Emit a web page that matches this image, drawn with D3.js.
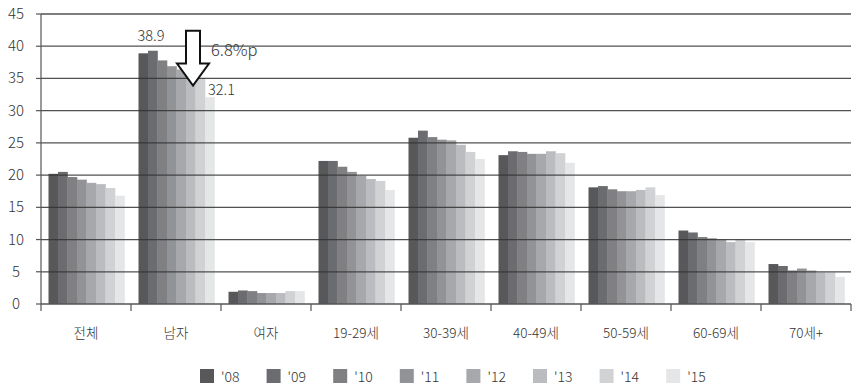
<!DOCTYPE html>
<html><head><meta charset="utf-8">
<script src="https://cdn.jsdelivr.net/npm/d3@7"></script>
<style>body{margin:0;background:#fff}svg{display:block}text{font-family:"Noto Sans CJK KR","Noto Sans",sans-serif;font-weight:300;fill:#333}</style>
</head><body><svg id="c" width="856" height="386"></svg>
<script>
const categories = ['전체','남자','여자','19-29세','30-39세','40-49세','50-59세','60-69세','70세+'];
const years = ["'08","'09","'10","'11","'12","'13","'14","'15"];
const v08 = [20.2, 38.9, 1.9, 22.2, 25.8, 23.1, 18.1, 11.4, 6.2];
const v09 = [20.5, 39.3, 2.1, 22.2, 26.9, 23.7, 18.3, 11.1, 5.9];
const v10 = [19.7, 37.8, 2.0, 21.3, 25.9, 23.6, 17.8, 10.4, 5.2];
const v11 = [19.3, 36.9, 1.7, 20.5, 25.5, 23.3, 17.5, 10.2, 5.5];
const v12 = [18.8, 36.4, 1.7, 19.9, 25.4, 23.3, 17.5, 10.0, 5.2];
const v13 = [18.6, 35.6, 1.7, 19.4, 24.7, 23.7, 17.7, 9.6, 4.9];
const v14 = [18.0, 35.1, 2.0, 19.1, 23.6, 23.4, 18.1, 10.0, 4.9];
const v15 = [16.8, 32.1, 2.0, 17.7, 22.5, 21.9, 16.9, 9.6, 4.2];
const yTicks = [0,5,10,15,20,25,30,35,40,45];
const colors = ['#58585a','#6b6c70','#808083','#929396','#a7a8ab','#bbbcbf','#d1d2d4','#e5e6e7'];
const series = [v08,v09,v10,v11,v12,v13,v14,v15];
const annot = {start:"38.9", end:"32.1", diff:"6.8%p"};

const svg = d3.select('#c');
const L=41, R=851, T=14, B=304;
const x = d3.scaleBand().domain(categories).range([L,R]).padding(0);
const x1 = d3.scaleBand().domain(years).range([7.5, x.bandwidth()-6.5]).padding(0);
const y = d3.scaleLinear().domain([0,45]).range([B,T]);

// bars
const g = svg.append('g');
categories.forEach((c,ci)=>{
  years.forEach((yr,yi)=>{
    const v = series[yi][ci];
    g.append('rect').attr('x', x(c)+x1(yr)).attr('y', y(v))
      .attr('width', x1.bandwidth()+0.3).attr('height', y(0)-y(v)).attr('fill', colors[yi]);
  });
});

// gridlines on top
svg.append('g').selectAll('line').data(yTicks.filter(d=>d>0)).join('line')
  .attr('x1',L).attr('x2',R).attr('y1',d=>y(d)).attr('y2',d=>y(d))
  .attr('stroke','#333').attr('stroke-width',1.3).attr('stroke-opacity',0.85);

// y axis
svg.append('line').attr('x1',L).attr('x2',L).attr('y1',T).attr('y2',B).attr('stroke','#555').attr('stroke-width',1.2);
svg.append('g').selectAll('line').data(yTicks).join('line')
  .attr('x1',L-5).attr('x2',L).attr('y1',d=>y(d)).attr('y2',d=>y(d)).attr('stroke','#555').attr('stroke-width',1.2);
svg.append('g').selectAll('text').data(yTicks).join('text')
  .attr('x',16).attr('y',d=>y(d)+5).attr('text-anchor','middle').attr('font-size',15).text(d=>d);

// x axis
svg.append('line').attr('x1',L).attr('x2',R).attr('y1',B).attr('y2',B).attr('stroke','#555').attr('stroke-width',1.3);
const bounds = categories.map(c=>x(c)).concat([R]);
svg.append('g').selectAll('line').data(bounds).join('line')
  .attr('x1',d=>d).attr('x2',d=>d).attr('y1',B).attr('y2',B+7).attr('stroke','#555').attr('stroke-width',1.2);
svg.append('g').selectAll('text').data(categories).join('text')
  .attr('x',d=>x(d)+x.bandwidth()/2).attr('y',338).attr('text-anchor','middle').attr('font-size',13.5).text(d=>d);

// annotation for 남자
const gx = x('남자');
svg.append('text').attr('x', gx+x1(years[0])-1).attr('y', y(v08[1])-12).attr('font-size',14.5).text(annot.start);
svg.append('text').attr('x', gx+x1(years[7])+3).attr('y', y(v15[1])-2).attr('font-size',14.5).text(annot.end);
svg.append('text').attr('x', gx+80).attr('y', y(38.5)).attr('font-size',16.5).text(annot.diff);
const ax = gx + x1(years[6]) - 2.5; // arrow centre
const path = d3.path();
path.moveTo(ax-7, y(42.4)); path.lineTo(ax+7, y(42.4)); path.lineTo(ax+7, y(37.3));
path.lineTo(ax+16, y(37.3)); path.lineTo(ax, y(33.9)); path.lineTo(ax-16, y(37.3));
path.lineTo(ax-7, y(37.3)); path.closePath();
svg.append('path').attr('d', path.toString()).attr('fill','#fff').attr('stroke','#111').attr('stroke-width',2).attr('stroke-linejoin','miter');

// legend
const lg = svg.append('g');
years.forEach((yr,i)=>{
  const lx = 200 + i*66.6;
  lg.append('rect').attr('x',lx).attr('y',369).attr('width',14).attr('height',14).attr('fill',colors[i]);
  lg.append('text').attr('x',lx+21).attr('y',381.5).attr('font-size',14).text(yr);
});
</script></body></html>
